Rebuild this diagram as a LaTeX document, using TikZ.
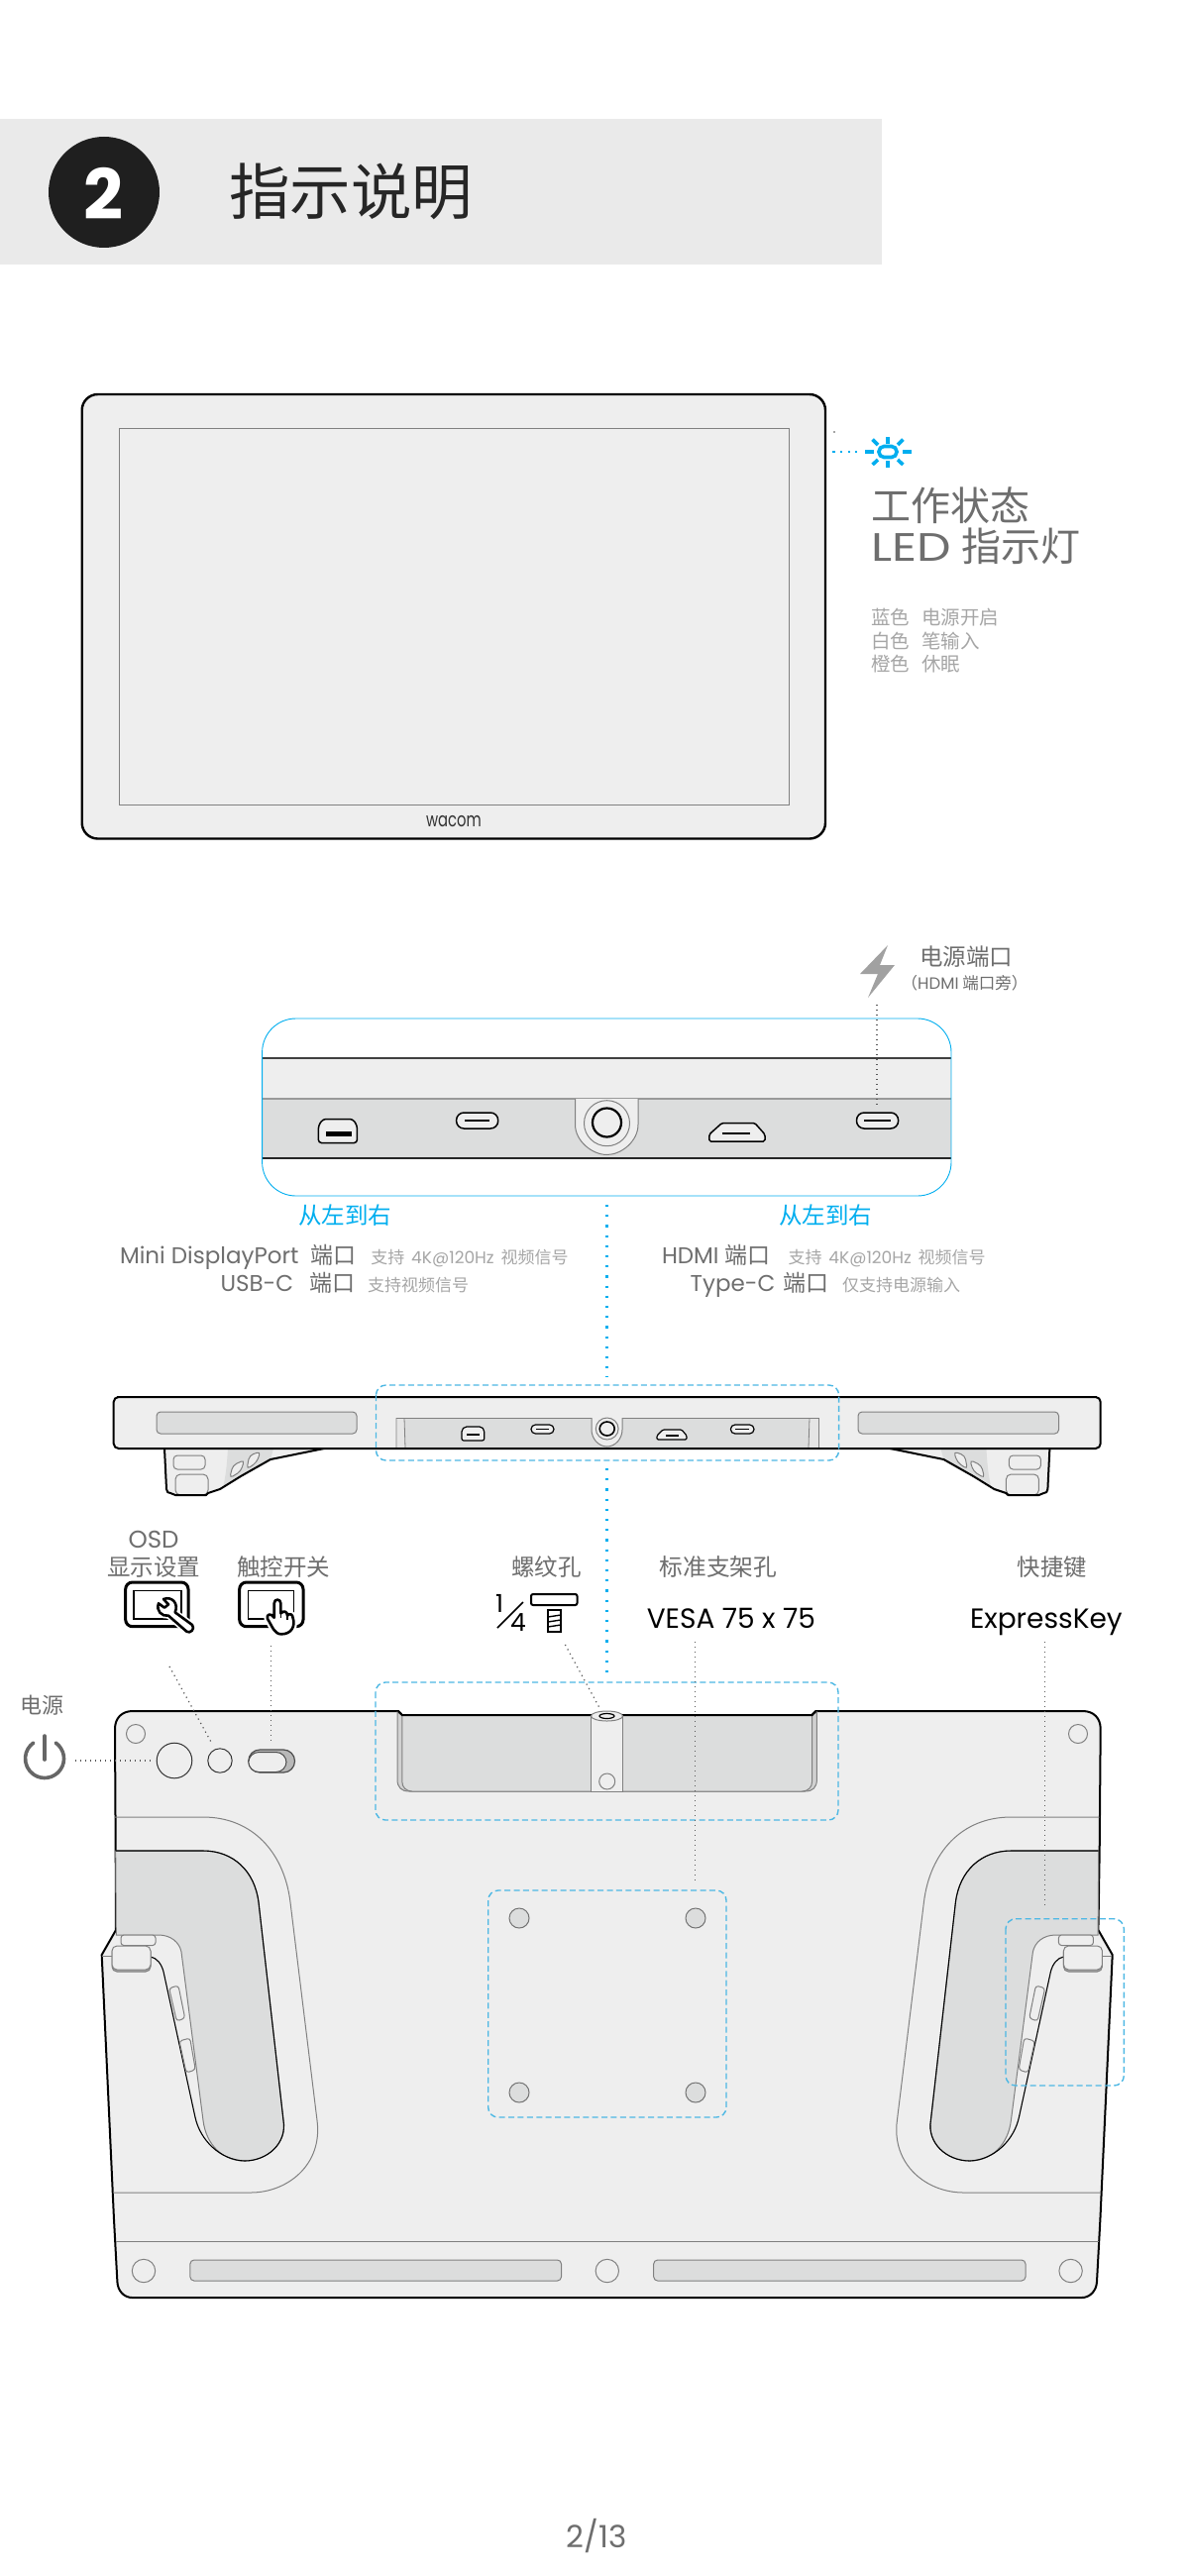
\documentclass[tikz,border=0pt]{standalone}
\usepackage{fontspec}
\usepackage{graphicx}
\setmainfont{Poppins}
\newfontfamily\cjk{Noto Sans CJK SC}
\definecolor{lite}{HTML}{EEEEEE}
\definecolor{dark}{HTML}{DCDDDD}
\definecolor{band}{HTML}{EAEAEA}
\definecolor{sky}{HTML}{00AEEF}
\definecolor{dash}{HTML}{4DB8E4}
\definecolor{main}{HTML}{6E6E6E}
\definecolor{subt}{HTML}{A6A6A6}
\definecolor{thin}{HTML}{808080}
\tikzset{
  thinline/.style={draw=thin,line width=0.5pt},
  heavy/.style={draw=black,line width=1pt,line join=round},
  blackthin/.style={draw=black,line width=0.55pt},
  bluedash/.style={draw=dash,line width=0.7pt,dash pattern=on 3pt off 1.7pt,rounded corners=5pt},
  bluedots/.style={draw=sky,line width=1.1pt,dash pattern=on 1.1pt off 4pt},
  graydots/.style={draw=black!65,line width=0.6pt,dash pattern=on 0.6pt off 1.9pt},
  portbox/.style={fill=lite,draw=black,line width=0.75pt},
  iconline/.style={draw=black,line width=1.5pt,rounded corners=3.5pt},
  txt/.style={inner sep=0pt,outer sep=0pt}
}
\newcommand\tn[7][base west]{%
  \pgfmathsetmacro\yb{#4+0.37*#5}\pgfmathsetmacro\fsz{#5/2}%
  \node[txt,anchor=#1,text=#6] (#2) at (#3,\yb) {\fontsize{\fsz}{\fsz}\selectfont #7};}
\newcommand\gripshape{%
  \path[thinline] (115.7,1834) -- (205,1834) .. controls (255,1834) and (287,1870) .. (293,1920) -- (320,2140) .. controls (326,2185) and (290,2213) .. (253,2213) -- (114.2,2213);
  \path[fill=dark,thinline] (116.7,1868) -- (205,1868) .. controls (235,1868) and (257,1888) .. (261,1920) -- (286,2140) .. controls (290,2163) and (270,2181) .. (246.7,2181) .. controls (225,2181) and (208,2165) .. (205,2140) -- (183,1970) .. controls (181,1960) and (172,1953) .. (160,1953) -- (117.3,1953) -- cycle;
  \path[blackthin] (116.7,1868) -- (205,1868) .. controls (235,1868) and (257,1888) .. (261,1920) -- (286,2140) .. controls (290,2163) and (270,2181) .. (246.7,2181);
  \path[blackthin] (152,1975) .. controls (158,1976) and (163,1982) .. (165,1990) -- (197,2137) .. controls (202,2160) and (222,2180) .. (246.7,2181);
  \path[thinline] (103,1974) -- (113,1974);
  \path[fill=lite,thinline,rounded corners=1.5pt] (122,1953) rectangle (157,1963.5);
  \path[fill=black!35,thinline,rounded corners=2.5pt] (113,1965) rectangle (152,1990);
  \path[fill=lite,thinline,rounded corners=2.5pt] (113,1964) rectangle (152,1988);
  \path[fill=lite,thinline,rounded corners=1.5pt] (170.7,2006.7) -- (180,2004) -- (186.7,2037) -- (178.3,2040) -- cycle;
  \path[fill=lite,thinline,rounded corners=1.5pt] (181,2060) -- (191.7,2057) -- (197.3,2089) -- (188,2092) -- cycle;
}
\newcommand\legshape{%
  \path[fill=lite] (166,1462) -- (168,1503) -- (177,1509) -- (208,1509) -- (222,1503) -- (243,1490) -- (273,1473) -- (327,1462) -- cycle;
  \path[fill=dark] (230,1462) .. controls (229,1478) and (228,1490) .. (225,1501) -- (243,1490) -- (273,1473) -- (276,1462) -- cycle;
  \path[fill=lite,thinline,rounded corners=2pt] (175,1469) rectangle (207,1483);
  \path[fill=lite,thinline,rounded corners=2.5pt] (177,1488) rectangle (210,1509);
  \path[fill=lite,thinline,rounded corners=2pt] (231.7,1492) -- (235,1479) -- (246.7,1473.5) -- (243,1485) -- cycle;
  \path[fill=lite,thinline,rounded corners=2pt] (249,1483) -- (251.7,1469) -- (263,1465) -- (259,1476) -- cycle;
  \path[heavy] (166,1462) -- (168,1503) .. controls (168,1506) and (170,1507) .. (172,1507) -- (177,1509) -- (208,1509) -- (210,1507) -- (222,1503) -- (243,1490) -- (273,1473) -- (327,1462);
}
\begin{document}
\begin{tikzpicture}[x=0.5pt,y=-0.5pt]
\useasboundingbox (0,0) rectangle (1200,2600);
\fill[white] (0,0) rectangle (1200,2600);

% title band
\fill[band] (0,120) rectangle (890,267);
\fill[black!88] (105,194) circle[radius=56];
\tn[center]{num}{104}{169}{70}{white}{\bfseries 2}
\tn{title}{231}{193.5}{61.5}{black!85}{\cjk 指示说明}

% front tablet
\path[fill=lite,draw=black,line width=1.2pt,rounded corners=8pt] (82.7,398) rectangle (833,846.5);
\path[thinline] (120,432.7) rectangle (796,812);
\node[txt,text=black!80] (wacom) at (458,829) {\fontsize{10}{10}\selectfont\scalebox{0.74}[1]{wacom}};

% LED
\coordinate (ledA) at (840,456);
\coordinate (ledB) at (865,456);
\draw[draw=sky,line width=1.3pt,dash pattern=on 1.3pt off 2.6pt] (ledA) -- (ledB);
\fill[black!70] (842,436) circle[radius=0.8];
\path[draw=sky,line width=1.8pt,rounded corners=2.6pt] (887,450.5) rectangle (905,461.5);
\foreach \a/\b/\c/\d in {873/456/881.5/456, 911/456/920/456, 896/441/896/447.5, 896/465/896/472, 880.6/443.6/886/449, 911.4/443.6/906/449, 880.6/469/886/464, 911.4/469/906/464}
  \draw[sky,line width=1.8pt] (\a,\b) -- (\c,\d);
\tn{ledT}{879}{511}{40}{main}{\cjk 工作状态}
\tn{ledU}{879}{552}{40}{main}{\scalebox{1.22}[1]{LED} \cjk 指示灯}
\tn{ledC}{879}{623.7}{19.5}{subt}{\cjk 蓝色\hspace{6pt}电源开启}
\tn{ledD}{879}{647}{19.5}{subt}{\cjk 白色\hspace{6pt}笔输入}
\tn{ledE}{879}{670.7}{19.5}{subt}{\cjk 橙色\hspace{6pt}休眠}

% power port
\path[fill=black!37] (896,954) -- (868,983) -- (886,983) -- (876,1007) -- (903,974) -- (888,974) -- cycle;
\tn{pp}{928}{966}{23.5}{main}{\cjk 电源端口}
\tn[base]{ppb}{973.5}{992}{16.5}{main}{\cjk （\textrm{HDMI} 端口旁）}

% port close-up
\path[fill=lite] (264.6,1068) rectangle (960,1109);
\path[fill=dark] (264.6,1109) rectangle (960,1169);
\path[draw=black!75,line width=0.9pt] (264.6,1068) -- (960,1068);
\path[draw=black!40,line width=0.9pt] (264.6,1109) -- (960,1109);
\path[draw=black!85,line width=0.9pt] (264.6,1169) -- (960,1169);
\path[fill=lite,thinline] (580.5,1109) -- (580.5,1135) .. controls (580.5,1152) and (598,1165.5) .. (612.5,1165.5) .. controls (627,1165.5) and (644,1152) .. (644,1135) -- (644,1109);
\path[thinline] (612.5,1133.7) circle[radius=23];
\path[draw=black,line width=1.1pt] (612.5,1133) circle[radius=14.5];
\path[portbox,rounded corners=1.5pt] (321.4,1136) -- (326,1129.5) -- (356,1129.5) -- (360.4,1136) -- (360.4,1153.5) -- (321.4,1153.5) -- cycle;
\fill[black] (329,1142) rectangle (355,1146.5);
\path[portbox,rounded corners=3.8pt] (460.6,1123) rectangle (502.7,1139);
\draw[black,line width=1pt] (469,1131) -- (494.4,1131);
\path[portbox,rounded corners=0.8pt] (715.8,1152) -- (715.8,1145) -- (728.6,1133.5) -- (761.8,1133.5) -- (772,1145) -- (772,1152) -- cycle;
\draw[black,line width=1pt] (728.6,1144) -- (757,1144);
\path[portbox,rounded corners=3.8pt] (864.5,1123) rectangle (906.6,1139);
\draw[black,line width=1pt] (872,1131) -- (899,1131);
\path[draw=sky,line width=0.45pt,rounded corners=17pt] (264.6,1028) rectangle (960,1207);
\coordinate (ppA) at (885,1014);
\coordinate (ppB) at (885,1115);
\path[graydots] (ppA) -- (ppB);

% labels
\tn{lrA}{301}{1227}{23.5}{sky}{\cjk 从左到右}
\tn{lrB}{786}{1227}{23.5}{sky}{\cjk 从左到右}
\tn{a1}{121}{1267}{23}{main}{Mini DisplayPort\hspace{3pt} \cjk 端口}
\tn{a2}{374.4}{1269}{17}{subt}{\cjk 支持\hspace{1.5pt} \textrm{4K@120Hz}\hspace{1.5pt} 视频信号}
\tn{a3}{222.5}{1295}{23}{main}{USB-C\hspace{5pt} \cjk 端口}
\tn{a4}{371}{1297}{17}{subt}{\cjk 支持视频信号}
\tn{b1}{668}{1267}{23}{main}{HDMI \cjk 端口}
\tn{b2}{795.6}{1269}{17}{subt}{\cjk 支持\hspace{1.5pt} \textrm{4K@120Hz}\hspace{1.5pt} 视频信号}
\tn{b3}{696.7}{1295}{23}{main}{Type-C\hspace{0.8pt} \cjk 端口}
\tn{b4}{850}{1297}{17}{subt}{\cjk 仅支持电源输入}
\coordinate (cA) at (612.5,1216);
\coordinate (cB) at (612.5,1390);
\path[bluedots] (cA) -- (cB);

% top view
\legshape
\begin{scope}[shift={(1225.4,0)},xscale=-1]\legshape\end{scope}
\path[fill=lite,draw=black,line width=1pt,rounded corners=2.5pt] (114.7,1410) rectangle (1110.7,1462);
\draw[black,line width=1.3pt] (118,1410) -- (1107,1410);
\path[fill=dark,thinline,rounded corners=2pt] (158,1425) rectangle (360,1447);
\path[fill=dark,thinline,rounded corners=2pt] (866,1425) rectangle (1068.5,1447);
\path[fill=black!10] (400,1431) rectangle (826.5,1461.2);
\path[fill=dark] (408,1432) rectangle (817,1461.2);
\path[thinline] (400,1431) -- (826.5,1431);
\path[draw=thin,line width=0.4pt] (400,1431) -- (400,1461) (408,1431) -- (409,1461) (817,1431) -- (816,1461) (826.5,1431) -- (826.5,1461);
\path[fill=lite,thinline] (597,1431) -- (597,1443) .. controls (597,1452) and (604,1460) .. (612.7,1460) .. controls (621,1460) and (628,1452) .. (628,1443) -- (628,1431);
\path[thinline] (612.7,1442) ellipse[x radius=11.4,y radius=11];
\path[draw=black,line width=0.8pt] (612.7,1442) ellipse[x radius=7.5,y radius=7];
\path[portbox,line width=0.6pt,rounded corners=1pt] (466,1443) -- (469,1440) -- (486,1440) -- (488.7,1443) -- (488.7,1454) -- (466,1454) -- cycle;
\draw[black,line width=1pt] (471,1447.5) -- (484,1447.5);
\path[portbox,line width=0.6pt,rounded corners=2.2pt] (536,1438) rectangle (559,1447);
\draw[black,line width=0.7pt] (541,1442.5) -- (554,1442.5);
\path[portbox,line width=0.6pt,rounded corners=0.6pt] (663,1453) -- (663,1449) -- (669,1443) -- (688,1443) -- (693,1449) -- (693,1453) -- cycle;
\draw[black,line width=0.7pt] (672,1449) -- (685,1449);
\path[portbox,line width=0.6pt,rounded corners=2.2pt] (737.4,1438) rectangle (761,1447);
\draw[black,line width=0.7pt] (742,1442.5) -- (756,1442.5);
\draw[black,line width=1pt] (340,1462) -- (885,1462);
\path[bluedash] (379.5,1398) rectangle (846.6,1474);

% labels above back view
\tn[base]{osd}{155}{1553}{24.5}{main}{OSD}
\tn{osdb}{108.3}{1582}{23.5}{main}{\cjk 显示设置}
\tn{tch}{239}{1582}{23.5}{main}{\cjk 触控开关}
\tn{scr}{516}{1582}{23.5}{main}{\cjk 螺纹孔}
\tn{ves}{665.8}{1582}{23.7}{main}{\cjk 标准支架孔}
\tn{exk}{1026.9}{1582}{23.3}{main}{\cjk 快捷键}
\tn{vesa}{652.8}{1633}{28}{black}{VESA 75 x 75}
\tn{xprs}{979}{1633}{28}{black}{ExpressKey}
\tn{pow}{20}{1721}{22}{main}{\cjk 电源}

% OSD icon
\path[iconline] (126.7,1597) rectangle (190,1641.7);
\path[draw=black,line width=0.75pt] (135,1605.7) rectangle (183,1634);
\begin{scope}[shift={(120,1590)},x=0.1667pt,y=-0.1667pt]
\path[draw=white,line width=3pt,line join=round] (170,112) -- (222,150) .. controls (232,162) and (215,178) .. (205,170) -- (150,122) .. controls (130,125) and (112,108) .. (120,85) -- (138,98) -- (150,88) -- (135,72) .. controls (160,62) and (182,85) .. (170,112) -- cycle;
\path[fill=white,draw=black,line width=1.3pt,line join=round] (170,112) -- (222,150) .. controls (232,162) and (215,178) .. (205,170) -- (150,122) .. controls (130,125) and (112,108) .. (120,85) -- (138,98) -- (150,88) -- (135,72) .. controls (160,62) and (182,85) .. (170,112) -- cycle;
\end{scope}

% touch icon
\path[iconline] (241.7,1597) rectangle (306,1641.7);
\path[draw=black,line width=0.75pt] (250.7,1605.7) rectangle (296.7,1634);
\begin{scope}[shift={(120,1590)},x=0.1667pt,y=-0.1667pt]
\path[draw=white,line width=3.5pt,line join=round] (470,85) .. controls (470,70) and (490,70) .. (490,85) -- (490,115) .. controls (500,105) and (510,110) .. (510,122) .. controls (518,112) and (527,120) .. (527,130) .. controls (534,150) and (525,178) .. (492,178) .. controls (470,178) and (465,155) .. (450,132) .. controls (445,118) and (460,112) .. (470,128) -- cycle;
\path[fill=white,draw=black,line width=1.3pt,line join=round] (470,85) .. controls (470,70) and (490,70) .. (490,85) -- (490,115) .. controls (500,105) and (510,110) .. (510,122) .. controls (518,112) and (527,120) .. (527,130) .. controls (534,150) and (525,178) .. (492,178) .. controls (470,178) and (465,155) .. (450,132) .. controls (445,118) and (460,112) .. (470,128) -- cycle;
\path[draw=black,line width=0.8pt] (490,115) -- (490,130) (510,122) -- (510,135);
\end{scope}

% 1/4 icon
\tn[center]{one}{504}{1609}{25}{black}{1}
\tn[center]{four}{523}{1628}{25}{black}{4}
\coordinate (slA) at (528,1617);
\coordinate (slB) at (502,1643);
\draw[black,line width=0.8pt] (slA) -- (slB);
\path[draw=black,line width=1pt,rounded corners=1pt] (536,1609) rectangle (582.5,1620);
\path[draw=black,line width=1pt] (553,1625) rectangle (566,1647);
\foreach \y in {1631,1636,1641} \draw[black,line width=0.7pt] (553,\y+1) -- (566,\y-1);

% power icon
\path[draw=black!60,line width=1.8pt,line cap=round] (56.2,1759) arc[start angle=-55,end angle=235,radius=19.5];
\path[draw=black!60,line width=1.8pt,line cap=round] (45,1752) -- (45,1776);

% back view
\path[fill=lite,draw=black,line width=1pt,line join=round] (116,1745) .. controls (116,1734) and (123,1727) .. (134,1727) -- (402,1727) -- (405.8,1731) -- (819.6,1731) -- (823.4,1727) -- (1092.7,1727) .. controls (1103.7,1727) and (1110.7,1734) .. (1110.7,1745) -- (1109.7,1867) -- (1108.4,1948) -- (1122.7,1973) -- (1110.4,2240) -- (1107,2303) .. controls (1106.6,2312) and (1100,2319) .. (1092,2319) -- (133.4,2319) .. controls (125,2319) and (118.8,2312) .. (118.4,2303) -- (115,2240) -- (102.7,1973) -- (117,1948) -- (116.7,1867) -- cycle;
\path[fill=black!18,thinline] (401,1728) -- (401,1796) .. controls (401,1804) and (405,1808) .. (413,1808) -- (812.4,1808) .. controls (820.4,1808) and (824.4,1804) .. (824.4,1796) -- (824.4,1728) -- (819.6,1731) -- (405.8,1731) -- cycle;
\path[fill=dark,thinline] (405.8,1731) -- (405.8,1798) .. controls (405.8,1804) and (410,1808) .. (416,1808) -- (809.4,1808) .. controls (815.4,1808) and (819.6,1804) .. (819.6,1798) -- (819.6,1731) -- cycle;
\path[fill=lite,thinline] (596.9,1731) rectangle (628.3,1808);
\draw[black,line width=1pt] (402,1727) -- (405.8,1731) -- (819.6,1731) -- (823.4,1727);
\path[fill=lite,thinline] (612.5,1732) ellipse[x radius=16,y radius=5];
\path[draw=black,line width=0.6pt] (612.5,1732) ellipse[x radius=7.5,y radius=2.5];
\path[thinline] (612.7,1798) circle[radius=8];

\path[thinline] (137,1750) circle[radius=9.5];
\path[thinline] (1088,1750) circle[radius=9.5];
\path[draw=black!80,line width=0.5pt] (176,1777) circle[radius=17.8];
\path[draw=black!80,line width=0.5pt] (222,1777) circle[radius=12.2];
\path[fill=black!28,draw=black!70,line width=0.6pt,rounded corners=5.7pt] (250.8,1766) rectangle (297.5,1789);
\path[fill=lite,draw=black!70,line width=0.5pt,rounded corners=5.2pt] (250.8,1768.5) rectangle (289,1788.5);

\gripshape
\begin{scope}[shift={(1225.4,0)},xscale=-1]\gripshape\end{scope}

% VESA
\path[bluedash] (492.7,1908) rectangle (733,2137);
\foreach \x/\y in {524/1936,702/1936,524/2112,702/2112}
  \path[fill=dark,draw=black!55,line width=0.5pt] (\x,\y) circle[radius=10];

% bottom
\path[thinline] (117,2262) -- (1108.5,2262);
\foreach \x in {145,612.8,1080.6} \path[thinline] (\x,2292) circle[radius=11.7];
\path[fill=dark,thinline,rounded corners=2pt] (191.9,2281) rectangle (566.5,2302);
\path[fill=dark,thinline,rounded corners=2pt] (659.7,2281) rectangle (1035,2302);

% blue boxes
\path[bluedash] (379,1698) rectangle (846,1837);
\path[bluedash] (1015,1936.7) rectangle (1134.3,2105);
\coordinate (dA) at (612.5,1482);
\coordinate (dB) at (612.5,1691);
\path[bluedots] (dA) -- (dB);

% grey dotted leaders
\coordinate (pwA) at (76,1777);
\coordinate (pwB) at (152,1777);
\path[graydots] (pwA) -- (pwB);
\coordinate (osA) at (171,1682);
\coordinate (osB) at (213.5,1759);
\path[graydots] (osA) -- (osB);
\coordinate (tcA) at (273.6,1661);
\coordinate (tcB) at (273.6,1758);
\path[graydots] (tcA) -- (tcB);
\coordinate (srA) at (570.4,1660);
\coordinate (srB) at (605.7,1725);
\path[graydots] (srA) -- (srB);
\coordinate (veA) at (701.8,1657);
\coordinate (veB) at (701.8,1900);
\path[graydots] (veA) -- (veB);
\coordinate (exA) at (1054.8,1657);
\coordinate (exB) at (1054.8,1926);
\path[graydots] (exA) -- (exB);

% page number
\tn[center]{pg}{602}{2548}{31}{main}{2/13}
\end{tikzpicture}
\end{document}
